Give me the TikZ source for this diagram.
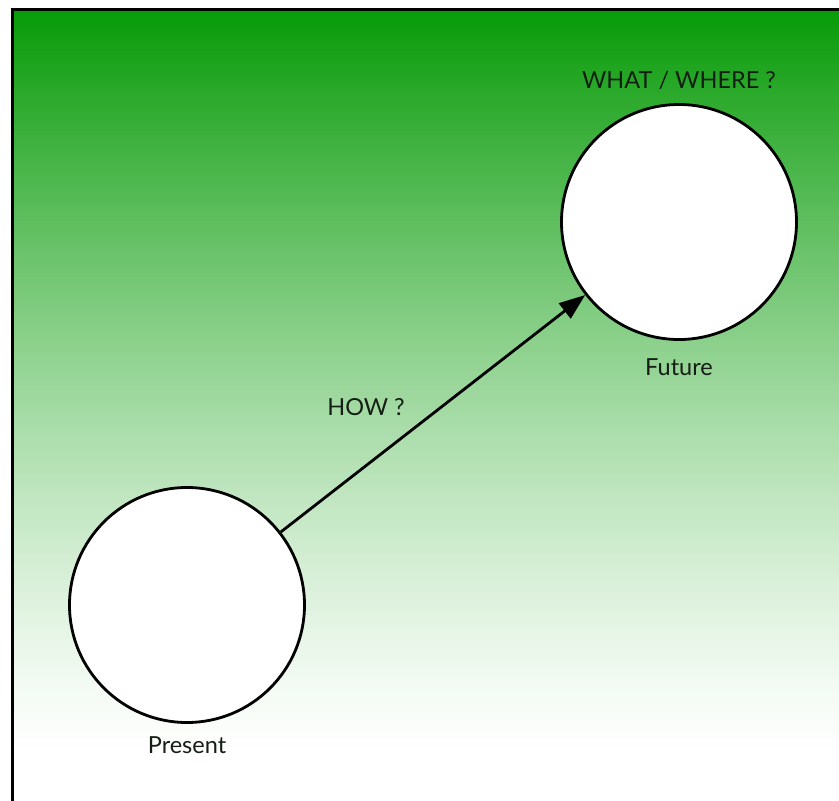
\documentclass[tikz,border=0pt]{standalone}
\usepackage{fontspec}
\setmainfont{Lato}
\usetikzlibrary{arrows.meta}
\definecolor{grn}{RGB}{8,155,8}
\definecolor{txt}{RGB}{20,30,20}
\tikzset{
  circ/.style={circle, draw=black, fill=white, line width=2.8pt, minimum size=235pt, inner sep=0pt},
  lbl/.style={font=\fontsize{23.5}{27}\selectfont, text=txt, inner sep=0pt},
}
\begin{document}
\begin{tikzpicture}[x=1pt,y=-1pt]
\useasboundingbox (0,0) rectangle (839,801);
\clip (0,0) rectangle (839,801);
\fill[white] (0,0) rectangle (839,801);
% gradient background
\foreach \i in {0,...,159}{
  \pgfmathsetmacro\t{\i/159}
  \pgfmathsetmacro\f{100*(1-\t)^1.3}
  \pgfmathsetmacro\ya{9+\i*4.7}
  \pgfmathsetmacro\yb{9+(\i+1)*4.7+0.6}
  \fill[grn!\f!white] (12,\ya) rectangle (845,\yb);
}
\draw[line width=3pt] (12.5,9.5) rectangle (850,820);
% nodes
\node[circ] (present) at (187,605) {};
\node[circ] (future) at (679,222) {};
\node[lbl] (plbl) at (187,745) {Present};
\node[lbl] (flbl) at (679,367) {Future};
\node[lbl] (wlbl) at (679,80) {WHAT / WHERE ?};
\node[lbl] (hlbl) at (366,407) {HOW ?};
\draw[line width=2.8pt, -{Triangle[length=26pt,width=19pt]}] (present) -- (future);
\end{tikzpicture}
\end{document}
